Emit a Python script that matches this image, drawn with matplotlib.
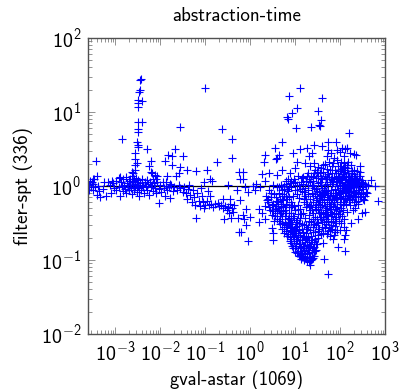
import numpy as np
import matplotlib
matplotlib.use("Agg")
import matplotlib.pyplot as plt
from matplotlib.ticker import LogLocator, NullFormatter, FixedLocator

plt.rcParams['font.family'] = ['cmss10', 'DejaVu Sans']
plt.rcParams['mathtext.fontset'] = 'custom'
plt.rcParams['mathtext.rm'] = 'cmss10'
plt.rcParams['mathtext.it'] = 'cmss10'
plt.rcParams['mathtext.fallback'] = 'cm'
plt.rcParams['axes.unicode_minus'] = False

title = "abstraction-time"
x_label = "gval-astar (1069)"
y_label = "filter-spt (336)"
x_decades = [-3, -2, -1, 0, 1, 2, 3]
y_decades = [-2, -1, 0, 1, 2]

# all values below are log10(x), log10(y)
spike_pts = [
    (-2.43,1.45),(-2.44,1.43),(-2.44,1.30),(-2.46,1.27),(-2.39,1.15),(-2.48,1.16),(-2.50,1.12),(-2.50,1.07),
    (-2.48,.87),(-2.41,.86),(-2.50,.77),(-2.50,.73),(-2.85,.63),(-2.52,.60),(-2.50,.55),(-2.48,.53),
    (-2.30,.50),(-2.56,.45),(-2.56,.37),(-2.52,.31),(-2.56,.29),(-3.43,.34),(-2.63,.19),(-2.59,.17),
    (-2.63,.13),(-2.21,.34),(-2.24,.27),(-2.21,.19),(-2.11,.15),(-2.07,.13),(-2.15,.09),(-2.55,.22),
    (-2.58,.10),(-2.17,.17),(-2.10,.09),
]
upper_pts = [
    (-1.56,.80),(-1.0,1.32),(-.63,.77),(-.39,.63),(-.41,.38),(-.74,.33),(-1.67,.50),(-1.82,.42),
    (-1.73,.40),(-1.48,.41),(-1.9,.34),(-1.74,.28),(-1.56,.26),(-1.57,.17),(-1.65,.14),(-1.39,.22),
    (-1.19,.20),(-.96,.22),(-1.84,.13),(-1.87,.06),(-1.78,.03),(-.89,.09),(-.84,.07),(-1.02,.06),
    (-.48,.01),(-.22,.10),(-.24,.19),(-3.39,.13),(-3.48,.09),(-3.52,.06),(-2.9,.12),(-3.07,.07),
    (1.10,1.33),(.87,1.22),(1.59,1.19),(1.04,1.06),(.94,.99),(.85,.91),(.83,.93),(1.50,1.02),
    (1.58,.89),(1.56,.81),(1.53,.82),(1.02,.78),(1.36,.80),(2.19,.71),(.72,.59),(1.74,.60),
    (1.92,.59),(1.42,.56),(1.61,.54),(.55,.51),(1.11,.50),(1.27,.51),(.34,.42),(.65,.42),
    (.59,.38),(.57,.37),(.96,.44),(1.37,.44),(.30,.32),(1.05,.33),(1.30,.41),(1.22,.31),
    (1.0,.25),(.7,.22),(.26,.16),(.43,.18),(.61,.15),(-.16,.19),(-.16,.09),(.33,.07),
    (.89,.18),(2.68,.08),(2.44,.27),(2.30,.43),(2.04,.51),(2.15,.52),(1.93,.49),(1.74,.49),
    (2.10,.50),(2.22,.44),(2.36,.42),(2.00,.46),(1.80,.44),(1.86,.38),(1.70,.41),(2.08,.40),
    (1.76,.33),(1.66,.30),(1.82,.27),(2.08,.31),(2.18,.33),(2.12,.26),(1.34,.27),(1.44,.22),
    (1.28,.17),(1.18,.12),(.52,.02),(.14,.03),(.06,.00),
]
left_pts = [
    (-.22,-.19),(-.10,-.31),(-.16,-.39),(0.0,-.42),(-.13,-.44),(-.09,-.53),(-.20,-.62),(-.04,-.74),
    (.19,-.31),(.26,-.37),(.19,-.48),(.33,-.45),(.50,-.73),(.52,-.64),(.48,-.57),(1.74,-1.19),
    (2.10,-.88),(1.96,-.83),(1.65,-.98),(1.63,-.77),(2.56,-.35),(2.48,-.37),(2.41,-.44),(2.24,-.50),
    (2.33,-.30),(2.29,-.33),(2.15,-.35),(2.08,-.44),(2.09,-.55),(2.13,-.59),(2.10,-.66),(2.09,-.71),
    (1.85,-.71),(1.78,-.68),(1.99,-.59),(1.81,-.53),(1.74,-.39),(1.89,-.44),(2.84,-.20),(2.78,.00),
    (2.05,-.40),(1.92,-.50),(1.95,-.38),(2.02,-.30),(2.35,-.22),(2.52,-.18),(2.60,-.10),
]
band_pts = [
    (-3.58,.02),(-3.57,-.05),(-3.55,.07),(-3.53,-.02),(-3.50,.03),(-3.48,-.06),(-3.47,.10),
    (-3.45,-.01),(-3.41,-.12),(-3.38,.00),(-3.35,-.07),(-3.33,-.15),(-3.27,-.04),
    (-3.24,.06),(-3.20,-.13),(-3.16,.05),(-3.11,.01),(-3.08,-.09),(-3.05,.04),
    (-3.02,-.03),(-2.98,.07),(-2.97,-.06),(-2.92,.11),(-2.91,-.02),(-2.89,-.13),(-2.87,.05),
    (-2.85,.00),(-2.83,-.07),(-2.82,.09),(-2.80,.02),(-2.78,-.04),(-2.76,.12),(-2.75,-.10),(-2.73,.04),
    (-2.72,-.01),(-2.70,.07),(-2.69,-.06),(-2.67,.02),(-2.66,.10),(-2.64,-.03),(-2.63,.05),(-2.62,-.11),
    (-2.60,.01),(-2.59,.07),(-2.58,-.05),(-2.56,.03),(-2.55,-.01),(-2.54,.11),(-2.52,-.08),(-2.51,.05),
    (-2.50,.00),(-2.48,.08),(-2.47,-.03),(-2.46,-.14),(-2.44,.04),(-2.43,-.06),(-2.41,.02),(-2.39,.09),
    (-2.38,-.02),(-2.36,-.09),(-2.34,.05),(-2.32,.00),(-2.30,.08),(-2.28,-.05),(-2.26,.03),(-2.24,-.12),
    (-2.22,.06),(-2.20,-.02),(-2.18,.02),(-2.16,-.07),(-2.13,.04),(-2.11,-.03),(-2.08,-.10),(-2.06,.05),
    (-2.03,-.04),(-2.02,-.23),(-2.00,.01),(-1.97,-.08),(-1.94,.06),(-1.92,-.03),(-1.89,-.13),(-1.86,.00),
    (-1.84,-.06),(-1.80,-.02),(-1.78,-.16),(-1.75,.02),(-1.72,-.07),(-1.68,-.01),(-1.63,-.05),(-1.58,.01),
    (-1.55,-.03),(-1.50,-.08),(-1.47,-.01),(-1.43,-.10),(-1.41,-.18),(-1.38,-.04),(-1.35,.01),(-1.33,-.12),
    (-1.30,-.21),(-1.27,-.06),(-1.24,-.15),(-1.22,-.25),(-1.20,-.43),(-1.18,-.09),(-1.14,-.20),(-1.12,-.27),
    (-1.10,-.03),(-1.07,-.14),(-1.05,-.22),(-1.02,-.30),(-.99,-.26),(-.96,-.20),(-.93,-.07),(-.92,-.25),
    (-.90,-.13),(-.86,-.24),(-.82,-.29),(-.78,-.24),(-.72,-.23),(-.68,-.27),(-.64,-.25),(-.60,-.30),
    (-.58,-.45),(-.55,-.27),(-.52,-.33),(-.48,-.29),(-.46,-.36),(-.44,-.24),(-.42,-.43),(-.40,-.30),
    (-.38,-.35),(-.35,-.26),(-.27,-.43),(-.24,-.62),(-.60,-.17),(-.45,-.17),(-.30,-.05),(-.12,-.02),
    (-.05,-.08),(.12,-.05),(.22,-.02),
]
# dense cloud, diagonal lower-left edge
diag_pts = [
    (.36,-.13),(.41,-.21),(.34,-.27),(.47,-.09),(.44,-.33),(.39,-.17),(.52,-.24),(.49,-.39),(.57,-.15),(.55,-.31),
    (.61,-.44),(.53,-.47),(.63,-.21),(.60,-.36),(.68,-.28),(.66,-.52),(.71,-.11),(.72,-.41),(.74,-.19),(.70,-.58),
    (.78,-.33),(.77,-.49),(.81,-.24),(.76,-.63),(.84,-.44),(.83,-.56),(.87,-.15),(.86,-.36),(.82,-.68),(.90,-.29),
    (.89,-.51),(.93,-.62),(.88,-.74),(.95,-.41),(.92,-.21),(.97,-.71),(.94,-.81),(.99,-.55),(1.01,-.33),(1.00,-.84),
    (1.03,-.66),(1.05,-.46),(1.02,-.77),(1.07,-.88),(1.06,-.26),(1.09,-.59),(1.11,-.73),(1.10,-.93),(1.13,-.38),(1.14,-.82),
    (1.16,-.51),(1.15,-.96),(1.18,-.67),(1.20,-.87),(1.19,-.17),(1.22,-.43),(1.23,-.76),(1.21,-.99),(1.26,-.58),(1.27,-.92),
    (1.25,-.29),(1.30,-.84),(1.29,-.69),(1.32,-1.03),(1.33,-.96),(1.31,-.47),(1.35,-.78),(1.37,-.89),(1.34,-1.07),(1.39,-.62),
    (1.38,-.99),(1.41,-.36),(1.42,-.83),(1.44,-.71),(1.43,-.94),(1.47,-.53),(1.49,-.78),(1.46,-.87),(1.52,-.66),(1.51,-.24),
    (.43,-.06),(.58,-.27),(.65,-.09),(.69,-.37),(.75,-.04),(.80,-.53),(.85,-.07),(.91,-.46),(.96,-.13),(1.04,-.54),
    (1.08,-.16),(1.12,-.31),(1.17,-.62),(1.24,-.53),(1.28,-.11),(1.36,-.26),(1.40,-.55),(1.45,-.42),(1.50,-.61),(1.48,-.16),
    (.79,-.14),(.98,-.27),(1.15,-.07),(.73,-.27),(.64,-.33),(.88,-.59),(1.06,-.69),(1.24,-.70),(1.33,-.59),(1.44,-.62),
    (1.21,-.81),(1.09,-.79),(.98,-.63),(.92,-.71),(1.16,-.90),(1.27,-.80),(1.38,-.73),(1.02,-.58),(.86,-.50),(.67,-.44),
    (.37,-.19),(.42,-.28),(.46,-.15),(.48,-.26),(.51,-.34),(.54,-.11),(.56,-.40),(.59,-.20),(.62,-.30),(.64,-.47),
    (.66,-.17),(.67,-.36),(.69,-.24),(.72,-.50),(.73,-.34),(.75,-.14),(.75,-.55),(.77,-.41),(.79,-.26),(.80,-.61),
    (.81,-.37),(.83,-.18),(.84,-.51),(.85,-.65),(.86,-.29),(.87,-.43),(.89,-.69),(.90,-.57),(.91,-.36),(.92,-.77),
    (.93,-.25),(.94,-.52),(.95,-.67),(.96,-.84),(.97,-.43),(.98,-.74),(.99,-.33),(1.00,-.61),(1.01,-.89),(1.02,-.49),
    (1.03,-.81),(1.04,-.72),(1.05,-.91),(1.06,-.38),(1.07,-.63),(1.08,-.95),(1.08,-.50),(1.10,-.84),(1.11,-.66),(1.12,-.43),
    (1.13,-.88),(1.13,-.98),(1.15,-.73),(1.15,-.58),(1.17,-.94),(1.18,-.81),(1.18,-.37),(1.19,-1.00),(1.20,-.68),(1.21,-.53),
    (1.22,-.90),(1.23,-.97),(1.24,-.84),(1.25,-.63),(1.26,-.76),(1.27,-1.01),(1.28,-.87),(1.29,-.55),(1.30,-.96),(1.31,-.73),
    (1.32,-.90),(1.33,-.81),(1.35,-1.00),(1.36,-.67),(1.37,-.94),(1.39,-.84),(1.41,-.97),(1.42,-.75),(1.44,-.88),(1.46,-.79),
]
# centre, somewhat open
middle_pts = [
    (1.53,-.37),(1.58,-.12),(1.61,-.48),(1.56,-.29),(1.64,-.21),(1.66,-.57),(1.60,-.03),(1.69,-.33),(1.71,-.09),(1.68,-.44),
    (1.75,-.17),(1.77,-.27),(1.73,-.61),(1.79,-.05),(1.83,-.38),(1.80,-.49),(1.86,-.22),(1.84,-.13),(1.90,-.31),(1.88,-.62),
    (1.55,.05),(1.47,.11),(1.39,.02),(1.31,.09),(1.23,-.03),(1.13,.06),(1.04,.01),(.97,.09),(.88,.04),(.79,.07),
    (.68,.02),(.60,-.02),(1.43,.17),(1.52,.13),(1.35,.14),(1.25,.07),(1.62,.19),(1.68,.09),(1.74,.16),(1.58,.24),
    (1.07,.13),(.95,.04),(.84,.10),(1.18,.03),(1.12,-.04),(1.00,-.06),(.92,-.02),(.76,.00),(1.29,-.06),(1.37,-.09),
    (1.42,-.03),(1.46,-.19),(1.33,-.18),(1.22,-.13),(1.05,-.11),(.83,-.04),(.70,-.17),(1.54,-.08),(1.64,-.05),(1.72,.03),
    (1.34,-.33),(1.39,-.14),(1.44,-.28),(1.49,-.07),(1.51,-.33),(1.55,-.19),(1.57,-.44),(1.59,-.25),(1.62,-.10),(1.63,-.36),
    (1.65,-.15),(1.67,-.27),(1.70,-.19),(1.72,-.41),(1.74,-.06),(1.76,-.24),(1.78,-.12),(1.81,-.31),(1.82,-.18),(1.85,-.27),
    (1.40,.07),(1.45,-.11),(1.50,.04),(1.54,-.14),(1.57,.01),(1.61,.09),(1.63,-.11),(1.66,.02),(1.69,-.07),(1.71,.12),
    (1.74,-.12),(1.77,.05),(1.80,-.09),(1.83,.09),(1.47,-.04),(1.37,.00),(1.28,.02),(1.20,-.08),(1.09,.01),(1.01,.05),
    (.91,.07),(.86,-.01),(.80,.03),(.72,-.06),(.65,-.02),(1.16,.11),(1.26,.13),(1.33,.05),(1.58,.11),(1.66,.14),
    (1.27,-.24),(1.31,-.39),(1.35,-.49),(1.38,-.33),(1.40,-.44),(1.43,-.52),(1.46,-.31),(1.48,-.45),(1.50,-.70),(1.52,-.50),
    (1.54,-.58),(1.55,-.42),(1.57,-.65),(1.58,-.35),(1.60,-.56),(1.62,-.42),(1.63,-.63),(1.65,-.49),(1.67,-.38),(1.69,-.52),
    (1.70,-.65),(1.72,-.30),(1.73,-.47),(1.75,-.55),(1.77,-.35),(1.78,-.60),(1.80,-.41),(1.82,-.58),(1.84,-.47),(1.86,-.66),
    (1.87,-.36),(1.89,-.54),(1.91,-.42),(1.93,-.28),(1.94,-.60),(1.97,-.34),(1.98,-.47),(2.00,-.38),(2.03,-.50),(2.06,-.33),
    (1.20,-.22),(1.24,-.18),(1.30,-.27),(1.41,-.21),(1.47,-.25),(1.53,-.22),(1.60,-.18),(1.66,-.10),(1.79,-.21),(1.88,-.28),
    (1.42,.31),(1.50,.26),(1.62,.29),(1.71,.23),(1.48,.19),(1.40,.12),(1.55,.17),(1.78,.21),(1.85,.31),(1.94,.35),
]
# right clump around y = 1
right_pts = [
    (1.83,.03),(1.89,-.04),(1.94,.07),(1.97,-.11),(2.00,.02),(2.03,-.18),(2.05,.11),(2.07,-.06),(2.10,.05),(2.12,-.14),
    (1.86,.12),(1.91,-.16),(1.96,.17),(1.99,-.24),(2.02,.23),(2.04,-.03),(2.06,.16),(2.09,-.21),(2.11,.09),(2.14,-.08),
    (2.15,.02),(2.17,.18),(2.19,-.12),(2.21,.07),(2.23,-.03),(2.25,.13),(2.27,-.17),(2.29,.04),(2.31,-.09),(2.33,.11),
    (2.35,-.02),(2.37,.20),(2.39,-.13),(2.41,.06),(2.43,-.06),(2.45,.01),(2.47,-.15),(2.49,.08),(2.51,-.04),(2.55,.03),
    (2.58,-.08),(2.53,-.19),(2.45,.14),(2.38,.09),(2.30,.22),(2.24,.28),(2.16,.29),(2.02,.33),(1.95,.27),(1.88,.21),
    (1.79,.09),(1.84,-.09),(1.93,.00),(1.98,.12),(2.01,-.08),(2.08,.00),(2.13,.13),(2.18,.03),(2.20,-.19),(2.26,.01),
    (2.28,-.07),(2.34,.03),(2.36,-.11),(2.42,.13),(2.46,-.09),(1.87,-.19),(1.94,-.22),(2.06,-.26),(2.14,-.24),(2.22,-.25),
    (2.32,-.21),(2.40,-.24),(1.92,-.09),(2.00,.08),(2.10,-.10),(2.16,-.04),(2.24,.06),(2.32,.16),(2.40,.01),(2.48,.04),
    (1.76,.12),(1.82,.17),(1.91,.11),(1.99,.20),(2.07,.25),(2.12,.21),(2.20,.14),(2.27,.17),(2.35,.10),(2.44,.19),
    (1.85,.05),(1.88,-.12),(1.90,.06),(1.93,-.17),(1.95,.13),(1.96,-.05),(1.98,.05),(2.00,-.15),(2.02,.10),(2.03,-.10),
    (2.05,.04),(2.06,-.16),(2.08,.14),(2.09,-.03),(2.11,-.17),(2.12,.03),(2.13,-.07),(2.14,.09),(2.16,-.16),(2.17,.08),
    (2.18,-.07),(2.19,.12),(2.21,-.01),(2.22,-.15),(2.23,.10),(2.25,-.08),(2.26,.20),(2.27,.07),(2.28,-.13),(2.30,.00),
    (2.31,.10),(2.33,-.15),(2.34,.07),(2.36,-.05),(2.38,.03),(2.39,-.20),(2.41,-.08),(2.43,.08),(2.44,-.13),(2.46,.05),
    (2.48,-.02),(2.50,-.11),(2.52,.04),(2.55,-.13),(2.57,.00),(2.62,.02),(1.92,.18),(2.00,.27),(2.09,.19),(2.15,.24),
]

all_pts = spike_pts + upper_pts + left_pts + band_pts + diag_pts + middle_pts + right_pts
log_x = np.array([p[0] for p in all_pts])
log_y = np.array([p[1] for p in all_pts])

fig = plt.figure(figsize=(4.01, 3.89), dpi=100)
ax = fig.add_axes([88 / 401, 1 - 334 / 389, 297 / 401, 296 / 389])

ax.set_xscale('log')
ax.set_yscale('log')
ax.set_xlim(10 ** -3.6, 10 ** 3)
ax.set_ylim(10 ** -2, 10 ** 2)

ax.axhline(1, color='black', lw=0.9, zorder=1)
ax.plot(10 ** log_x, 10 ** log_y, linestyle='none', marker='+', color='#0000ff',
        markersize=5.3, markeredgewidth=0.8, zorder=2, snap=False)

ax.xaxis.set_major_locator(FixedLocator([10.0 ** d for d in x_decades]))
ax.yaxis.set_major_locator(FixedLocator([10.0 ** d for d in y_decades]))
ax.set_xticklabels(['$10^{%d}$' % d for d in x_decades])
ax.set_yticklabels(['$10^{%d}$' % d for d in y_decades])
ax.xaxis.set_minor_locator(LogLocator(base=10, subs=range(2, 10), numticks=20))
ax.yaxis.set_minor_locator(LogLocator(base=10, subs=range(2, 10), numticks=20))
ax.xaxis.set_minor_formatter(NullFormatter())
ax.yaxis.set_minor_formatter(NullFormatter())
ax.tick_params(which='major', direction='in', top=True, right=True, length=5, width=0.6,
               color='#808080', labelsize=14.5, pad=5)
ax.tick_params(which='minor', direction='in', top=True, right=True, length=2.9, width=0.6, color='#808080')
for s in ax.spines.values():
    s.set_color('#505050')
    s.set_linewidth(1.0)

ax.set_title(title, fontsize=13.7, pad=12)
ax.set_xlabel(x_label, fontsize=13.4, labelpad=3.5)
ax.set_ylabel(y_label, fontsize=13.9, labelpad=5.5)

fig.savefig('out.png', dpi=100)
